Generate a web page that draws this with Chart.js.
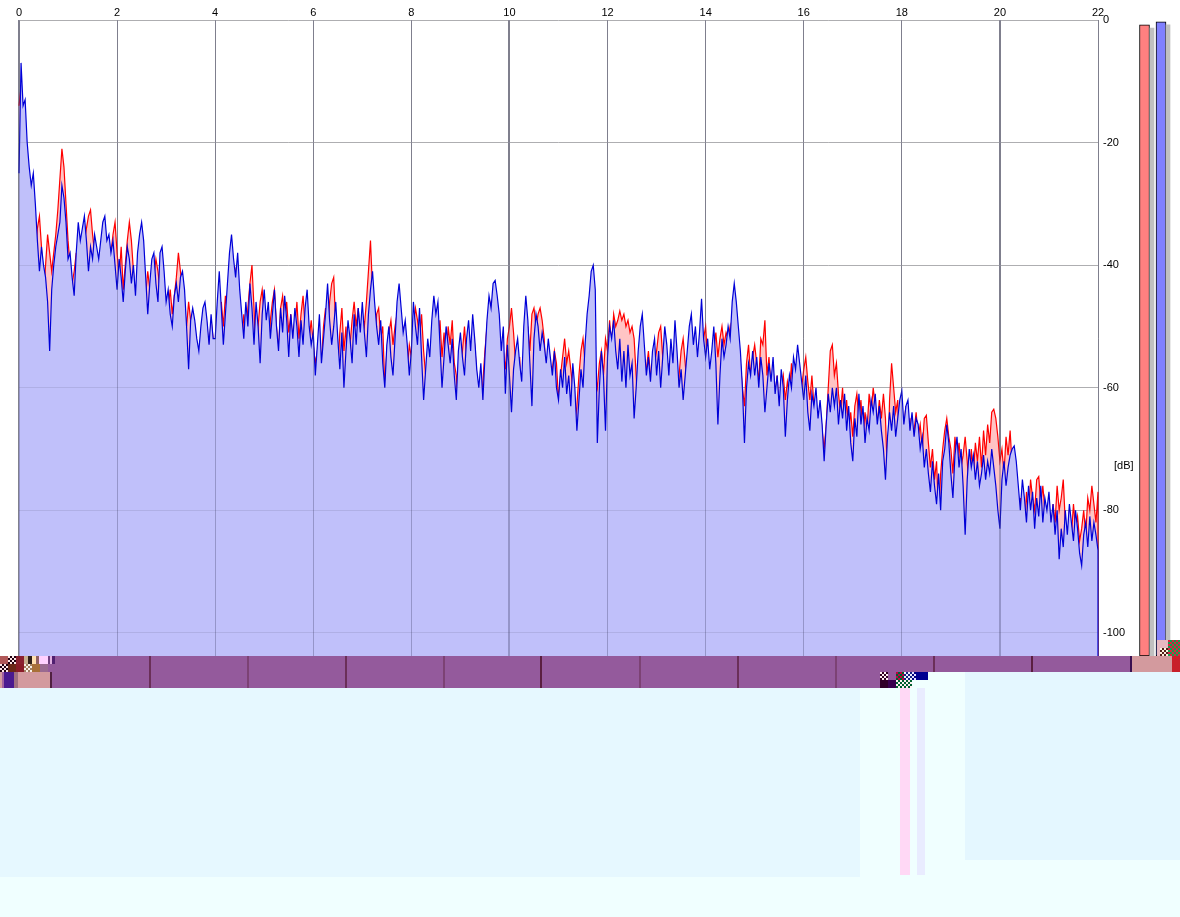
<!DOCTYPE html>
<html>
<head>
<meta charset="utf-8">
<style>
  html, body { margin: 0; padding: 0; background: #f0ffff; }
  #page { position: relative; width: 1180px; height: 917px; overflow: hidden; background: #f0ffff; font-family: "Liberation Sans", Arial, sans-serif; }
  #top { position: absolute; left: 0; top: 0; width: 1180px; height: 656px; background: #fff; }
  #spectrum { position: absolute; left: 0; top: 0; }
  #meters { position: absolute; left: 1135px; top: 20px; }
  #unit { position: absolute; left: 1114px; top: 459px; font-size: 11px; line-height: 12px; color: #000; }
  .patch { position: absolute; }
</style>
</head>
<body>
<div id="page">
  <div id="top"></div>
  <canvas id="spectrum" width="1130" height="668"></canvas>
  <canvas id="meters" width="40" height="636"></canvas>
  <div id="unit">[dB]</div>
</div>
<script src="https://cdn.jsdelivr.net/npm/chart.js@4"></script>
<script>
// kHz axis and dB axis
const khzTicks = [0, 2, 4, 6, 8, 10, 12, 14, 16, 18, 20, 22];
const dbTicks = [0, -20, -40, -60, -80, -100];
const binKhz = 1 / 24;
const dbFloor = -103.84;

// one row per kHz
const leftChannel = [
  -14, -11, -16, -20, -24, -27, -30, -33, -38, -34, -32, -37, -45, -40, -35, -38, -41, -38, -35, -31, -26, -21, -24, -30,
  -36, -40, -43, -41, -38, -44, -48, -42, -36, -34, -32, -31, -35, -38, -46, -49, -40, -36, -39, -37, -42, -38, -35, -33,
  -38, -42, -37, -44, -40, -36, -33, -36, -41, -46, -43, -39, -37, -41, -45, -41, -44, -49, -42, -39, -41, -44, -47, -53,
  -51, -47, -44, -48, -45, -42, -38, -41, -44, -47, -50, -46, -49, -52, -50, -54, -57, -53, -50, -47, -50, -54, -49, -52,
  -56, -61, -52, -46, -50, -45, -48, -44, -47, -43, -41, -46, -50, -53, -48, -52, -47, -43, -40, -47, -56, -50, -46, -44,
  -48, -52, -56, -49, -46, -44, -50, -54, -47, -45, -49, -46, -51, -48, -53, -50, -46, -52, -48, -45, -50, -47, -52, -49,
  -53, -56, -54, -62, -56, -50, -47, -52, -46, -43, -42, -50, -57, -51, -47, -54, -50, -59, -53, -49, -46, -50, -47, -52,
  -48, -50, -46, -41, -36, -44, -54, -48, -47, -52, -50, -60, -54, -51, -49, -53, -50, -48, -52, -55, -50, -54, -57, -53,
  -55, -50, -47, -49, -52, -48, -54, -58, -62, -55, -59, -52, -50, -54, -49, -55, -51, -57, -50, -53, -49, -56, -58, -64,
  -58, -54, -50, -55, -52, -57, -50, -53, -58, -62, -67, -59, -54, -50, -47, -46, -48, -53, -56, -66, -60, -54, -57, -52,
  -50, -47, -51, -56, -60, -55, -63, -57, -53, -50, -54, -48, -47, -50, -48, -47, -49, -52, -59, -55, -60, -57, -54, -56,
  -62, -58, -55, -52, -56, -54, -57, -60, -66, -63, -58, -54, -52, -56, -51, -54, -50, -53, -58, -60, -56, -54, -58, -52,
  -54, -49, -53, -48, -50, -49, -47.5, -49, -48, -50, -49, -51, -50, -52, -58, -64, -53, -56, -60, -57, -54, -58, -60, -56,
  -54, -51, -50, -55, -58, -61, -56, -65, -60, -63, -64, -58, -54, -52, -56, -60, -63, -58, -54, -53, -57, -59, -55, -52,
  -50, -56, -63, -58, -54, -51, -55, -52, -50, -53, -51, -52, -50, -53, -51, -55, -58, -56, -60, -63, -56, -53, -58, -55,
  -53, -56, -59, -52, -53, -49, -58, -55, -60, -57, -61, -58, -64, -60, -58, -62, -59, -61, -56, -62, -58, -60, -63, -60,
  -57, -55, -59, -62, -58, -63, -66, -69, -63, -67, -70, -66, -60, -54, -53, -58, -56, -61, -64, -60, -66, -62, -67, -64,
  -68, -63, -61, -65, -62, -68, -64, -67, -61, -64, -60, -63, -66, -62, -65, -61, -65, -75, -62, -56, -60, -64, -62, -74,
  -64, -67, -63, -69, -65, -74, -67, -64, -68, -66, -70, -65, -64.5, -69, -73, -70, -75, -72, -81, -74, -70, -67, -65, -68,
  -70, -74, -68, -72, -69, -73, -71, -68, -72, -77, -70, -74, -69, -72, -68, -73, -67, -71, -66, -69, -64, -63.5, -65, -68,
  -72, -70, -74, -68, -71, -67, -73, -76, -81, -85, -78, -82, -84, -77, -81, -75, -78, -80, -75, -74.5, -79, -76, -80, -84,
  -78, -85, -79, -82, -76, -80, -78, -75, -82, -86, -80, -84, -79, -83, -81, -85, -83, -80, -84, -78, -80, -76, -79, -82,
  -77, -103.84
];
const rightChannel = [
  -25, -7, -14, -13, -20, -24, -27, -25, -30, -36, -41, -37, -40, -42, -46, -54, -44, -40, -37, -35, -33, -27, -29, -33,
  -39, -38, -42, -45, -38, -33, -36, -34, -32, -36, -41, -37, -39, -35, -37, -39, -36, -33, -32, -36, -35, -38, -36, -40,
  -44, -39, -42, -46, -41, -37, -39, -43, -40, -45, -38, -35, -33, -36, -42, -48, -43, -39, -38, -43, -46, -38, -37, -41,
  -46, -44, -48, -50, -45, -43, -46, -42, -41, -44, -50, -57, -49, -47, -49, -52, -54, -50, -47, -46, -49, -53, -48, -52,
  -52, -46, -41, -47, -53, -48, -43, -38, -35, -39, -42, -38, -44, -48, -52, -46, -50, -43, -47, -53, -46, -50, -56, -48,
  -44, -49, -46, -52, -48, -44, -50, -54, -47, -51, -45, -49, -55, -48, -52, -47, -50, -55, -49, -53, -47, -44, -50, -53,
  -51, -58, -53, -48, -56, -52, -48, -43, -49, -53, -50, -46, -52, -57, -51, -60, -54, -49, -52, -56, -48, -53, -47, -51,
  -46, -51, -55, -48, -44, -41, -46, -50, -53, -49, -56, -60, -53, -50, -55, -58, -52, -46, -43, -47, -51, -49, -53, -58,
  -54, -46, -50, -53, -47, -55, -62, -57, -52, -55, -49, -45, -48, -46, -53, -60, -55, -50, -53, -56, -52, -58, -62, -54,
  -51, -55, -58, -52, -49, -54, -48, -52, -57, -60, -56, -62, -55, -49, -45, -47, -43, -42.5, -45, -48, -54, -50, -61, -53,
  -58, -64, -57, -54, -52, -56, -59, -50, -45, -49, -56, -63, -52, -48, -50, -54, -51, -53, -56, -52, -55, -58, -54, -60,
  -62, -57, -60, -55, -61, -58, -63, -56, -60, -67, -62, -57, -60, -53, -48, -45, -41, -40, -44, -69, -60, -54, -58, -67,
  -55, -50, -52, -49, -54, -57, -52, -59, -54, -60, -53, -58, -56, -65, -60, -54, -50, -48, -53, -58, -55, -59, -54, -52,
  -58, -54, -60, -55, -50, -53, -58, -52, -56, -49, -54, -60, -57, -62, -58, -54, -50, -48, -53, -50, -55, -51, -45.5, -52,
  -55, -52, -57, -54, -50, -56, -66, -58, -52, -55, -53, -50, -52, -46, -43, -46, -50, -54, -60, -69, -60, -56, -58, -54,
  -58, -55, -60, -55, -58, -64, -60, -56, -59, -55, -61, -58, -63, -57, -60, -68, -62, -58, -60, -55, -57, -53, -56, -59,
  -62, -58, -64, -67, -61, -63, -60, -65, -62, -66, -72, -66, -61, -64, -60, -63, -60, -66, -62, -65, -61, -67, -63, -69,
  -72, -65, -68, -61, -66, -63, -69, -65, -67, -62, -64, -61, -66, -63, -67, -70, -75, -68, -64, -67, -63, -68, -65, -62,
  -60.5, -66, -63, -62, -67, -64, -68, -65, -66, -70, -68, -73, -70, -74, -77, -72, -76, -79, -74, -80, -72, -70, -66, -69,
  -74, -78, -71, -68, -73, -70, -76, -84, -75, -70, -73, -71, -75, -72, -76, -74, -71, -75, -72, -74, -70, -73, -76, -80,
  -83, -75, -72, -76, -73, -71, -70, -69.5, -72, -76, -80, -75, -78, -82, -76, -80, -77, -83, -78, -81, -76, -82, -78, -80,
  -77, -82, -79, -84, -80, -88, -83, -86, -80, -84, -79, -82, -85, -80, -83, -87, -89, -84, -82, -86, -81, -85, -82, -84,
  -86.5, -103.84
];

// level meters at the right
const meterLevels = [-0.8, -0.3];
const meterPeaks = [-1.3, -0.8];
const meterLevelSlots = [1144.5, 1161];
const meterPeakSlots = [1152, 1168];

function toPoints(values) {
  return values.map((db, i) => ({ x: Math.min(i * binKhz, 22), y: db }));
}

function fixTicks(list) {
  return axis => { axis.ticks = list.map(value => ({ value })); };
}

new Chart(document.getElementById('spectrum'), {
  type: 'line',
  data: {
    datasets: [
      {
        label: 'L',
        data: toPoints(leftChannel),
        borderColor: '#ff0000',
        borderWidth: 1.2,
        backgroundColor: '#ffc4c4',
        fill: 'start',
        pointRadius: 0,
        tension: 0,
        clip: false,
        order: 2
      },
      {
        label: 'R',
        data: toPoints(rightChannel),
        borderColor: '#0000d8',
        borderWidth: 1.2,
        backgroundColor: '#c0c0fa',
        fill: 'start',
        pointRadius: 0,
        tension: 0,
        clip: false,
        order: 1
      }
    ]
  },
  options: {
    responsive: false,
    animation: false,
    layout: { padding: { left: 19 } },
    plugins: { legend: { display: false }, tooltip: { enabled: false } },
    elements: { line: { borderJoinStyle: 'miter' } },
    scales: {
      x: {
        type: 'linear',
        position: 'top',
        min: 0,
        max: 22,
        afterBuildTicks: fixTicks(khzTicks),
        afterFit: s => { s.height = 20; },
        border: { display: false },
        grid: {
          drawTicks: false,
          color: '#9f9f9f',
          lineWidth: c => (c.tick && c.tick.value % 10 === 0 ? 2 : 1)
        },
        ticks: { padding: 0, maxRotation: 0, autoSkip: false, color: '#000', font: { family: '"Liberation Sans"', size: 11 } }
      },
      y: {
        type: 'linear',
        position: 'right',
        min: dbFloor,
        max: 0,
        afterBuildTicks: fixTicks(dbTicks),
        afterFit: s => { s.width = 32; },
        border: { display: false },
        grid: { drawTicks: false, color: '#bfbfbf', lineWidth: 1 },
        ticks: { padding: 5, autoSkip: false, color: '#000', font: { family: '"Liberation Sans"', size: 11 }, callback: v => v }
      },
      // same grid again on top of the fills, faint, it shows through in the original
      xOver: {
        type: 'linear',
        position: 'top',
        min: 0,
        max: 22,
        afterBuildTicks: fixTicks(khzTicks),
        afterFit: s => { s.height = 0; },
        border: { display: false },
        grid: {
          z: 1,
          drawTicks: false,
          color: 'rgba(70,70,110,0.35)',
          lineWidth: c => (c.tick && c.tick.value % 10 === 0 ? 2 : 1)
        },
        ticks: { display: false }
      },
      yOver: {
        type: 'linear',
        position: 'right',
        min: dbFloor,
        max: 0,
        afterBuildTicks: fixTicks(dbTicks),
        afterFit: s => { s.width = 0; },
        border: { display: false },
        grid: { z: 1, drawTicks: false, color: 'rgba(60,60,80,0.12)', lineWidth: 1 },
        ticks: { display: false }
      }
    }
  }
});

new Chart(document.getElementById('meters'), {
  type: 'bar',
  data: {
    datasets: [
      {
        data: meterPeaks.map((db, i) => ({ x: meterPeakSlots[i], y: [db, dbFloor] })),
        backgroundColor: '#c0c0c0',
        borderWidth: 0,
        barThickness: 4,
        grouped: false
      },
      {
        data: meterLevels.map((db, i) => ({ x: meterLevelSlots[i], y: [db, dbFloor] })),
        backgroundColor: ['#ff8080', '#8080ff'],
        borderColor: '#000',
        borderWidth: 1,
        borderSkipped: false,
        barThickness: 10,
        grouped: false
      }
    ]
  },
  options: {
    responsive: false,
    animation: false,
    layout: { padding: 0 },
    plugins: { legend: { display: false }, tooltip: { enabled: false } },
    scales: {
      x: { type: 'linear', min: 1135, max: 1175, offset: false, display: false },
      y: { type: 'linear', min: dbFloor, max: 0, display: false }
    }
  }
});

// the broken strip and pale blocks under the plot
const chk = (a, b) => `repeating-conic-gradient(${a} 0 25%, ${b} 0 50%) 0 0/4px 4px`;
const patches = [
  [0, 688, 860, 189, '#e6f8ff'],
  [965, 672, 215, 188, '#e4f7ff'],
  [900, 688, 10, 187, '#ffd8f5'],
  [917, 688, 8, 187, '#e9ecff'],
  [0, 656, 1131, 16, '#945a9c'],
  [0, 672, 880, 16, '#945a9c'],
  [1131, 656, 41, 16, '#d39a9e'],
  [1172, 656, 8, 16, '#c8202a'],
  [149, 656, 2, 32, '#6a2f58'],
  [247, 656, 2, 32, '#7c4274'],
  [345, 656, 2, 32, '#6a2f58'],
  [443, 656, 2, 32, '#7c4274'],
  [540, 656, 2, 32, '#5a1f40'],
  [639, 656, 2, 32, '#7c4274'],
  [737, 656, 2, 32, '#6a2f58'],
  [835, 656, 2, 32, '#7c4274'],
  [933, 656, 2, 16, '#6a2f58'],
  [1031, 656, 2, 16, '#5a1f40'],
  [1130, 656, 2, 16, '#3a1050'],
  // left corner
  [0, 656, 8, 8, '#b05858'],
  [8, 656, 8, 8, chk('#200010', '#ffe8e8')],
  [16, 656, 8, 8, '#8b2030'],
  [24, 656, 4, 8, '#c8b090'],
  [28, 656, 4, 8, '#302018'],
  [32, 656, 4, 8, '#ffe0b0'],
  [36, 656, 3, 8, '#906060'],
  [39, 656, 9, 8, '#ffd0ff'],
  [48, 656, 2, 8, '#704080'],
  [50, 656, 2, 8, '#e0b0e0'],
  [52, 656, 3, 8, '#502070'],
  [0, 664, 8, 8, chk('#200010', '#ffe8e8')],
  [8, 664, 8, 8, '#6a2818'],
  [16, 664, 8, 8, '#8a1c28'],
  [24, 664, 8, 8, chk('#a08060', '#f8f0e8')],
  [32, 664, 8, 8, '#a87038'],
  [40, 664, 8, 8, '#9a6a90'],
  [0, 672, 2, 16, '#d39a9e'],
  [2, 672, 2, 16, '#a060a0'],
  [4, 672, 10, 16, '#4a1a90'],
  [14, 672, 4, 16, '#a07080'],
  [18, 672, 32, 16, '#d39a9e'],
  [50, 672, 2, 16, '#502040'],
  // middle patch
  [880, 672, 8, 8, chk('#300020', '#fff0f0')],
  [888, 672, 8, 8, '#945a9c'],
  [896, 672, 8, 8, chk('#006030', '#c00040')],
  [904, 672, 8, 8, chk('#102080', '#f0f0ff')],
  [912, 672, 4, 8, chk('#000080', '#e0e0ff')],
  [916, 672, 12, 8, '#000090'],
  [880, 680, 8, 8, '#300028'],
  [888, 680, 8, 8, '#3a0050'],
  [896, 680, 16, 8, chk('#006030', '#fff0f0')]
];
// bits under the meters
patches.push([1157, 640, 11, 16, '#e8b8c0']);
patches.push([1160, 648, 8, 8, chk('#502018', '#fff0e0')]);
patches.push([1168, 640, 12, 16, chk('#10a050', '#e02040')]);

const page = document.getElementById('page');
patches.forEach(([x, y, w, h, bg]) => {
  const d = document.createElement('div');
  d.className = 'patch';
  d.style.cssText = `left:${x}px;top:${y}px;width:${w}px;height:${h}px;background:${bg}`;
  page.appendChild(d);
});
</script>
</body>
</html>
